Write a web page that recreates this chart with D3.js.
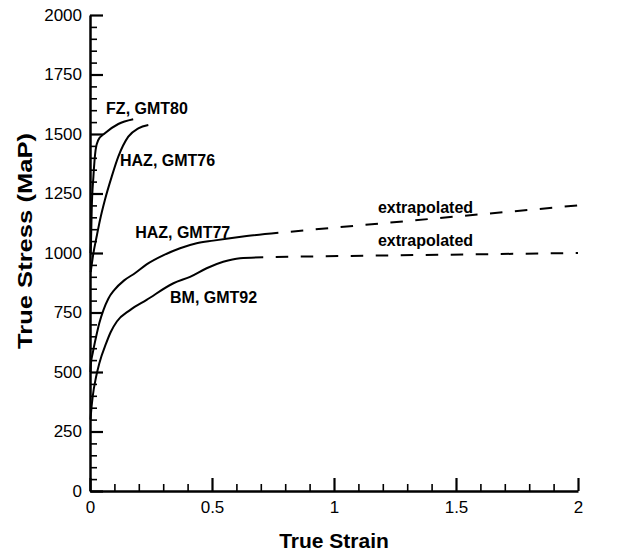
<!DOCTYPE html>
<html>
<head>
<meta charset="utf-8">
<script src="https://cdn.jsdelivr.net/npm/d3@7"></script>
<style>
  html, body { margin: 0; padding: 0; background: #fff; }
  svg { display: block; font-family: "Liberation Sans", Arial, Helvetica, sans-serif; }
</style>
</head>
<body>
<svg id="chart" width="617" height="554"></svg>
<script>
// ---- data ----
const fzStrain   = [0.002, 0.004, 0.007, 0.014, 0.023, 0.034, 0.061, 0.116, 0.177];
const fzStress   = [1000, 1041, 1181, 1321, 1433, 1475, 1503, 1542, 1562];

const haz76Strain = [0.003, 0.014, 0.027, 0.041, 0.061, 0.089, 0.116, 0.157, 0.198, 0.239];
const haz76Stress = [920, 999, 1068, 1139, 1223, 1321, 1405, 1489, 1524, 1538];

const haz77Strain = [0.002, 0.004, 0.011, 0.025, 0.038, 0.055, 0.075, 0.1, 0.14, 0.184, 0.232, 0.3, 0.369, 0.437, 0.505, 0.574, 0.642, 0.772];
const haz77Stress = [500, 537, 578, 648, 705, 760, 808, 845, 885, 915, 952, 990, 1020, 1041, 1052, 1062, 1071, 1085];

const bmStrain = [0.002, 0.004, 0.011, 0.025, 0.038, 0.066, 0.085, 0.11, 0.164, 0.232, 0.342, 0.41, 0.478, 0.546, 0.615, 0.71];
const bmStress = [300, 326, 396, 480, 536, 620, 668, 712, 760, 803, 873, 900, 936, 963, 978, 982];

const haz77ExtStrain = [0.772, 2];
const haz77ExtStress = [1085, 1200];
const bmExtStrain = [0.71, 2];
const bmExtStress = [983, 1000];

const xMajorTicks = [0, 0.5, 1, 1.5, 2];
const xTickLabels = ["0", "0.5", "1", "1.5", "2"];
const yMajorTicks = [0, 250, 500, 750, 1000, 1250, 1500, 1750, 2000];
const yTickLabels = ["0", "250", "500", "750", "1000", "1250", "1500", "1750", "2000"];

const seriesLabels = [
  { text: "FZ, GMT80",  x: 0.066, y: 1585 },
  { text: "HAZ, GMT76", x: 0.123, y: 1367 },
  { text: "HAZ, GMT77", x: 0.185, y: 1065 },
  { text: "BM, GMT92",  x: 0.328, y: 790 },
  { text: "extrapolated", x: 1.18, y: 1170 },
  { text: "extrapolated", x: 1.18, y: 1030 }
];

// ---- chart ----
const svg = d3.select("#chart");
const x = d3.scaleLinear().domain([0, 2]).range([90, 578]);
const y = d3.scaleLinear().domain([0, 2000]).range([491, 15]);

const zip = (a, b) => a.map((v, i) => [v, b[i]]);
const line = d3.line().x(d => x(d[0])).y(d => y(d[1])).curve(d3.curveMonotoneX);

const solid = [
  zip(fzStrain, fzStress),
  zip(haz76Strain, haz76Stress),
  zip(haz77Strain, haz77Stress),
  zip(bmStrain, bmStress)
];
svg.append("g").selectAll("path").data(solid).join("path")
  .attr("d", line).attr("fill", "none").attr("stroke", "#000")
  .attr("stroke-width", 2).attr("stroke-linejoin", "round");

const dashed = [zip(haz77ExtStrain, haz77ExtStress), zip(bmExtStrain, bmExtStress)];
svg.append("g").selectAll("path").data(dashed).join("path")
  .attr("d", d3.line().x(d => x(d[0])).y(d => y(d[1])))
  .attr("fill", "none").attr("stroke", "#000")
  .attr("stroke-width", 2).attr("stroke-dasharray", "12.5,12.5").attr("stroke-dashoffset", 12.5);

// minor ticks
const yMinor = d3.range(0, 2001, 50).filter(v => v % 250 !== 0);
const xMinor = d3.range(0, 21, 1).map(v => v / 10).filter(v => Math.round(v * 10) % 5 !== 0);

svg.append("g").attr("transform", `translate(${x(0)},0)`)
  .call(d3.axisLeft(y).tickValues(yMinor).tickSizeInner(-7).tickSizeOuter(0).tickFormat(""))
  .call(g => g.select(".domain").remove())
  .call(g => g.selectAll("line").attr("stroke-width", 1.6));

svg.append("g").attr("transform", `translate(0,${y(0)})`)
  .call(d3.axisBottom(x).tickValues(xMinor).tickSizeInner(-7).tickSizeOuter(0).tickFormat(""))
  .call(g => g.select(".domain").remove())
  .call(g => g.selectAll("line").attr("stroke-width", 1.6));

// major axes
const yAxis = svg.append("g").attr("transform", `translate(${x(0)},0)`)
  .call(d3.axisLeft(y).tickValues(yMajorTicks).tickSizeInner(-13).tickSizeOuter(0).tickPadding(8)
    .tickFormat((d, i) => yTickLabels[i]));
const xAxis = svg.append("g").attr("transform", `translate(0,${y(0)})`)
  .call(d3.axisBottom(x).tickValues(xMajorTicks).tickSizeInner(-13).tickSizeOuter(0).tickPadding(10)
    .tickFormat((d, i) => xTickLabels[i]));

[yAxis, xAxis].forEach(g => {
  g.select(".domain").attr("stroke-width", 2.5);
  g.selectAll(".tick line").attr("stroke-width", 2.2);
  g.selectAll(".tick text").attr("font-size", 17).attr("fill", "#000")
    .attr("font-family", "'Liberation Sans', Arial, Helvetica, sans-serif");
});

// series labels
svg.append("g").selectAll("text").data(seriesLabels).join("text")
  .attr("x", d => x(d.x)).attr("y", d => y(d.y))
  .attr("font-size", 16).attr("font-weight", "bold").attr("fill", "#000")
  .text(d => d.text);

// axis titles
svg.append("text").attr("x", (x(0) + x(2)) / 2).attr("y", 548)
  .attr("text-anchor", "middle").attr("font-size", 21).attr("font-weight", "bold")
  .text("True Strain");
svg.append("text").attr("transform", `translate(32,241) rotate(-90)`)
  .attr("text-anchor", "middle").attr("font-size", 21).attr("font-weight", "bold")
  .attr("textLength", 216).attr("lengthAdjust", "spacingAndGlyphs")
  .text("True Stress (MaP)");
</script>
</body>
</html>
